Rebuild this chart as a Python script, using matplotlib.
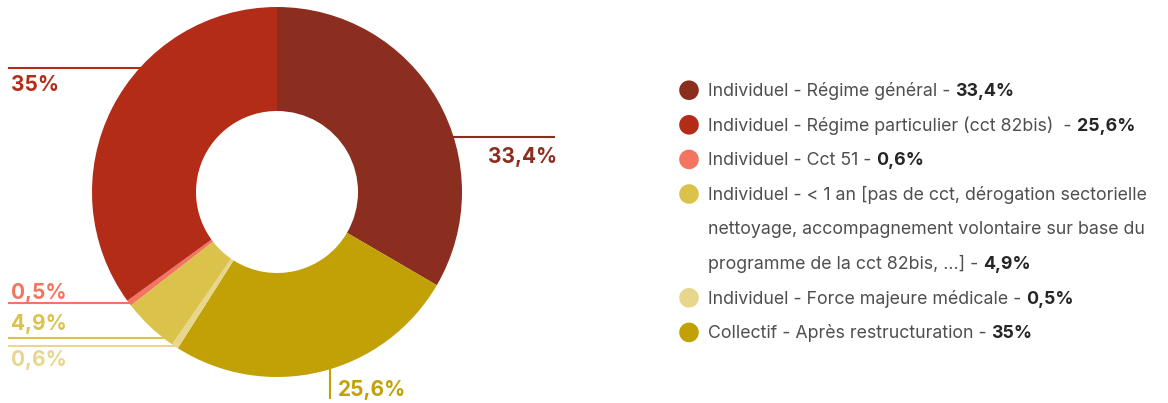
import numpy as np
import matplotlib.pyplot as plt

W, H = 1168, 403

# donut slices, clockwise from 12 o'clock
slice_values = [33.4, 25.6, 0.6, 4.9, 0.5, 35.0]
slice_labels = ['33,4%', '25,6%', '0,6%', '4,9%', '0,5%', '35%']
slice_colors = ['#8b2e1f', '#c1a105', '#e8d68c', '#dac24b', '#f27461', '#b22c18']

# legend entries
legend_colors = ['#8b2e1f', '#b22c18', '#f27461', '#dac24b', '#e8d68c', '#c1a105']
legend_lines = [
    ['Individuel - Régime général - '],
    ['Individuel - Régime particulier (cct 82bis)  - '],
    ['Individuel - Cct 51 - '],
    ['Individuel - < 1 an [pas de cct, dérogation sectorielle',
     'nettoyage, accompagnement volontaire sur base du',
     'programme de la cct 82bis, …] - '],
    ['Individuel - Force majeure médicale - '],
    ['Collectif - Après restructuration - '],
]
legend_values = ['33,4%', '25,6%', '0,6%', '4,9%', '0,5%', '35%']

# leader layout per slice: (position inside wedge, direction, line end, text offset)
leaders = [
    (0.605, 'right', 554, 18),
    (0.469, 'down', 398, 0),
    (0.5, 'left', 9, 12),
    (0.19, 'left', 9, -15),
    (0.5, 'left', 9, -12),
    (0.62, 'left', 9, 16),
]

cx, cy, R = 277, 192, 185
hole = 81

plt.rcParams['font.family'] = ['Inter', 'DejaVu Sans']

fig = plt.figure(figsize=(W / 100, H / 100), dpi=100)
ax = fig.add_axes([0, 0, 1, 1])


def Y(y):
    return H - y


ax.pie(slice_values, colors=slice_colors, startangle=90, counterclock=False,
       center=(cx, Y(cy)), radius=R,
       wedgeprops=dict(width=R - hole, edgecolor='none', linewidth=0))

# pie() resets the limits, so the pixel frame is set afterwards
ax.set_xlim(0, W)
ax.set_ylim(0, H)
ax.set_aspect('equal')
ax.axis('off')

# leader lines and value labels
bounds = np.concatenate([[0], np.cumsum(slice_values)]) / 100 * 360
for i, (frac, side, end, dy) in enumerate(leaders):
    a = np.radians(bounds[i] + frac * (bounds[i + 1] - bounds[i]))
    px = cx + R * np.sin(a)
    py = cy - R * np.cos(a)
    col = slice_colors[i]
    if side == 'down':
        ax.plot([px, px], [Y(py - 2), Y(end)], color=col, lw=1.5, zorder=0)
        ax.text(px + 8, Y(388 + 7.5), slice_labels[i], color=col, fontsize=15,
                fontweight='bold', ha='left', va='baseline')
    else:
        x0 = px + (3 if side == 'left' else -3)
        ax.plot([x0, end], [Y(py), Y(py)], color=col, lw=1.5, zorder=0)
        if side == 'left':
            tx, ha = 11, 'left'
        else:
            tx, ha = 557, 'right'
        ax.text(tx, Y(py + dy + 7.5), slice_labels[i], color=col, fontsize=15,
                fontweight='bold', ha=ha, va='baseline')

# legend
row_y = 89.7
step = 34.6
renderer = fig.canvas.get_renderer()
for col, lines, val in zip(legend_colors, legend_lines, legend_values):
    ax.add_patch(plt.Circle((689, Y(row_y + 0.5)), 9.8, color=col, lw=0))
    for j, line in enumerate(lines):
        t = ax.text(708, Y(row_y + 6.3), line, color='#4f4f4f', fontsize=12.8,
                    ha='left', va='baseline')
        if j == len(lines) - 1:
            bb = t.get_window_extent(renderer)
            x_end = ax.transData.inverted().transform((bb.x1, bb.y0))[0]
            ax.text(x_end, Y(row_y + 6.3), val, color='#262626', fontsize=12.8,
                    fontweight='bold', ha='left', va='baseline')
        row_y += step

fig.savefig('out.png', dpi=100)
